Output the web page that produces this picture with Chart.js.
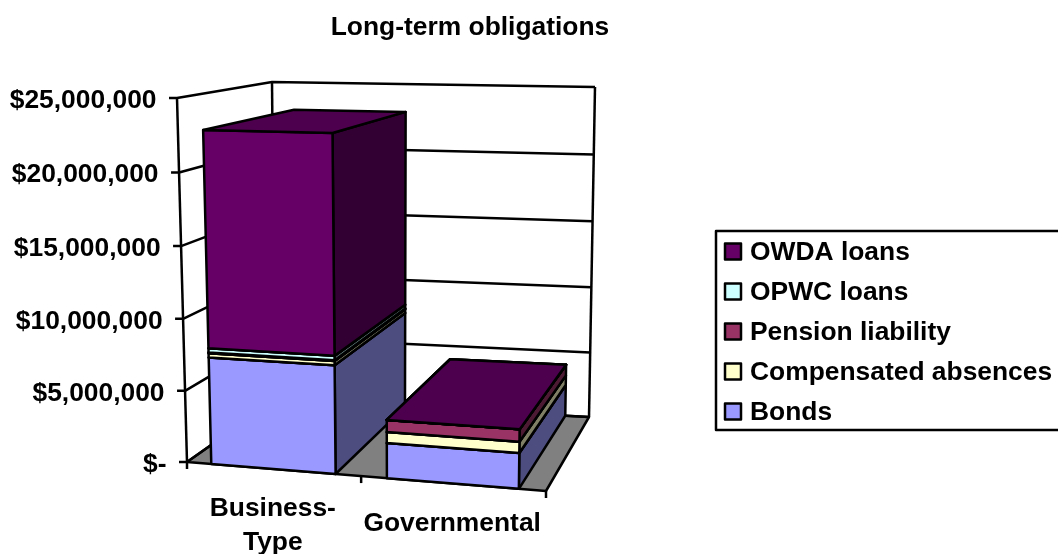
<!DOCTYPE html>
<html>
<head>
<meta charset="utf-8">
<title>Long-term obligations</title>
<script src="https://cdn.jsdelivr.net/npm/chart.js@4"></script>
<style>
    body { margin: 0; background: #fff; overflow: hidden; }
    canvas { display: block; }
</style>
</head>
<body>
<canvas id="myChart" width="1058" height="554"></canvas>
<script>
const chartTitle = 'Long-term obligations';
const categories = [['Business-', 'Type'], 'Governmental'];
const yTickLabels = ['$-', '$5,000,000', '$10,000,000', '$15,000,000', '$20,000,000', '$25,000,000'];

const bonds = [7430000, 2390000];
const compensatedAbsences = [300000, 750000];
const pensionLiability = [50000, 820000];
const opwcLoans = [290000, 0];
const owdaLoans = [14830000, 0];

const seriesNames = ['Bonds', 'Compensated absences', 'Pension liability', 'OPWC loans', 'OWDA loans'];
const seriesColors = ['#9999ff', '#ffffcc', '#993366', '#ccffff', '#660066'];

const font = 'bold 26.4px "Liberation Sans", Arial, sans-serif';

// corners of the 3d plot box on the screen: front/back, left/right, bottom/top
const box = {
    flb: [187, 462], frb: [546, 491], blb: [275, 400], brb: [589, 417],
    flt: [177, 98], frt: [552, 105], blt: [272, 82], brt: [595, 87]
};

function lerp(a, b, t) {
    return [a[0] + (b[0] - a[0]) * t, a[1] + (b[1] - a[1]) * t];
}

// perspective squeeze along an axis
function warp(t, k) {
    return k * t / (1 + (k - 1) * t);
}

// chart pixel + depth (0 front, 1 back) -> screen point
function project(chart, px, py, d) {
    const area = chart.chartArea;
    const u = warp((px - area.left) / area.width, 0.942);
    const v = warp((area.bottom - py) / area.height, 0.972);
    const low = lerp(lerp(box.flb, box.frb, u), lerp(box.blb, box.brb, u), d);
    const high = lerp(lerp(box.flt, box.frt, u), lerp(box.blt, box.brt, u), d);
    return lerp(low, high, v);
}

function poly(ctx, points, fill) {
    ctx.beginPath();
    points.forEach((p, i) => i ? ctx.lineTo(p[0], p[1]) : ctx.moveTo(p[0], p[1]));
    if (fill) {
        ctx.closePath();
        ctx.fillStyle = fill;
        ctx.fill();
    }
    ctx.stroke();
}

function shade(hex, f) {
    const n = parseInt(hex.slice(1), 16);
    return 'rgb(' + Math.round((n >> 16) * f) + ',' + Math.round(((n >> 8) & 255) * f) + ',' + Math.round((n & 255) * f) + ')';
}

function drawFrame(chart, ctx) {
    const area = chart.chartArea;
    const yScale = chart.scales.y;
    const p = (x, y, d) => project(chart, x, y, d);

    poly(ctx, [box.flb, box.frb, box.brb, box.blb], '#808080');
    poly(ctx, [box.flb, box.flt]);
    poly(ctx, [box.blb, box.blt]);
    poly(ctx, [box.brb, box.brt]);

    ctx.font = font;
    ctx.textAlign = 'right';
    ctx.textBaseline = 'middle';
    yScale.ticks.forEach(tick => {
        const y = yScale.getPixelForValue(tick.value);
        const front = p(area.left, y, 0);
        poly(ctx, [[front[0] - 8, front[1]], front, p(area.left, y, 1), p(area.right, y, 1)]);
        ctx.fillStyle = '#000';
        ctx.fillText(tick.label, front[0] - 20.5, front[1] + 2.5);
    });

    // category ticks and labels under the front floor edge
    const step = area.width / categories.length;
    for (let i = 0; i <= categories.length; i++) {
        const q = p(area.left + i * step, area.bottom, 0);
        poly(ctx, [q, [q[0], q[1] + 7]]);
    }
    ctx.textAlign = 'center';
    const labelY = p(area.right, area.bottom, 0)[1] + 33;
    categories.forEach((label, i) => {
        const lines = [].concat(label);
        const x = p(chart.scales.x.getPixelForValue(i), area.bottom, 0)[0];
        lines.forEach((line, j) => {
            ctx.fillText(line, x, labelY + (lines.length - 1) * 1.5 + (j - (lines.length - 1) / 2) * 34);
        });
    });
}

function drawBars(chart, ctx) {
    categories.forEach((c, i) => {
        chart.data.datasets.forEach((ds, n) => {
            const bar = chart.getDatasetMeta(n).data[i];
            const left = bar.x - bar.width / 2;
            const right = bar.x + bar.width / 2;
            const p = (x, y, d) => project(chart, x, y, d);
            const color = ds.backgroundColor;
            poly(ctx, [p(right, bar.base, 0), p(right, bar.base, 1), p(right, bar.y, 1), p(right, bar.y, 0)], shade(color, 0.5));
            poly(ctx, [p(left, bar.base, 0), p(right, bar.base, 0), p(right, bar.y, 0), p(left, bar.y, 0)], color);
            poly(ctx, [p(left, bar.y, 0), p(right, bar.y, 0), p(right, bar.y, 1), p(left, bar.y, 1)], shade(color, 0.75));
        });
    });
}

function drawLegend(chart, ctx) {
    ctx.fillStyle = '#fff';
    ctx.fillRect(716, 231, 350, 199);
    ctx.strokeRect(716, 231, 350, 199);
    ctx.font = font;
    ctx.textAlign = 'left';
    ctx.textBaseline = 'middle';
    chart.data.datasets.slice().reverse().forEach((ds, i) => {
        const y = 251.5 + i * 40;
        ctx.fillStyle = ds.backgroundColor;
        ctx.fillRect(725, y - 8, 16, 16);
        ctx.strokeRect(725, y - 8, 16, 16);
        ctx.fillStyle = '#000';
        ctx.fillText(ds.label, 750, y + 1.5);
    });
}

const plot3d = {
    id: 'plot3d',
    beforeDatasetsDraw(chart) {
        const ctx = chart.ctx;
        ctx.save();
        ctx.strokeStyle = '#000';
        ctx.lineWidth = 2.5;
        ctx.lineJoin = 'round';
        ctx.fillStyle = '#000';
        ctx.font = font;
        ctx.textAlign = 'center';
        ctx.textBaseline = 'middle';
        ctx.fillText(chartTitle, 470, 28);
        drawFrame(chart, ctx);
        drawBars(chart, ctx);
        drawLegend(chart, ctx);
        ctx.restore();
        // the flat bars are replaced by the boxes above
        return false;
    }
};

const seriesValues = [bonds, compensatedAbsences, pensionLiability, opwcLoans, owdaLoans];

new Chart(document.getElementById('myChart').getContext('2d'), {
    type: 'bar',
    data: {
        labels: categories,
        datasets: seriesNames.map((name, i) => ({
            label: name,
            data: seriesValues[i],
            backgroundColor: seriesColors[i]
        }))
    },
    options: {
        responsive: false,
        animation: false,
        barPercentage: 0.714,
        categoryPercentage: 1,
        layout: { padding: 0 },
        plugins: { legend: { display: false }, title: { display: false }, tooltip: { enabled: false } },
        scales: {
            x: { stacked: true, display: false },
            y: {
                stacked: true,
                display: false,
                min: 0,
                max: 25000000,
                ticks: { stepSize: 5000000, callback: (value, i) => yTickLabels[i] }
            }
        }
    },
    plugins: [plot3d]
});
</script>
</body>
</html>
